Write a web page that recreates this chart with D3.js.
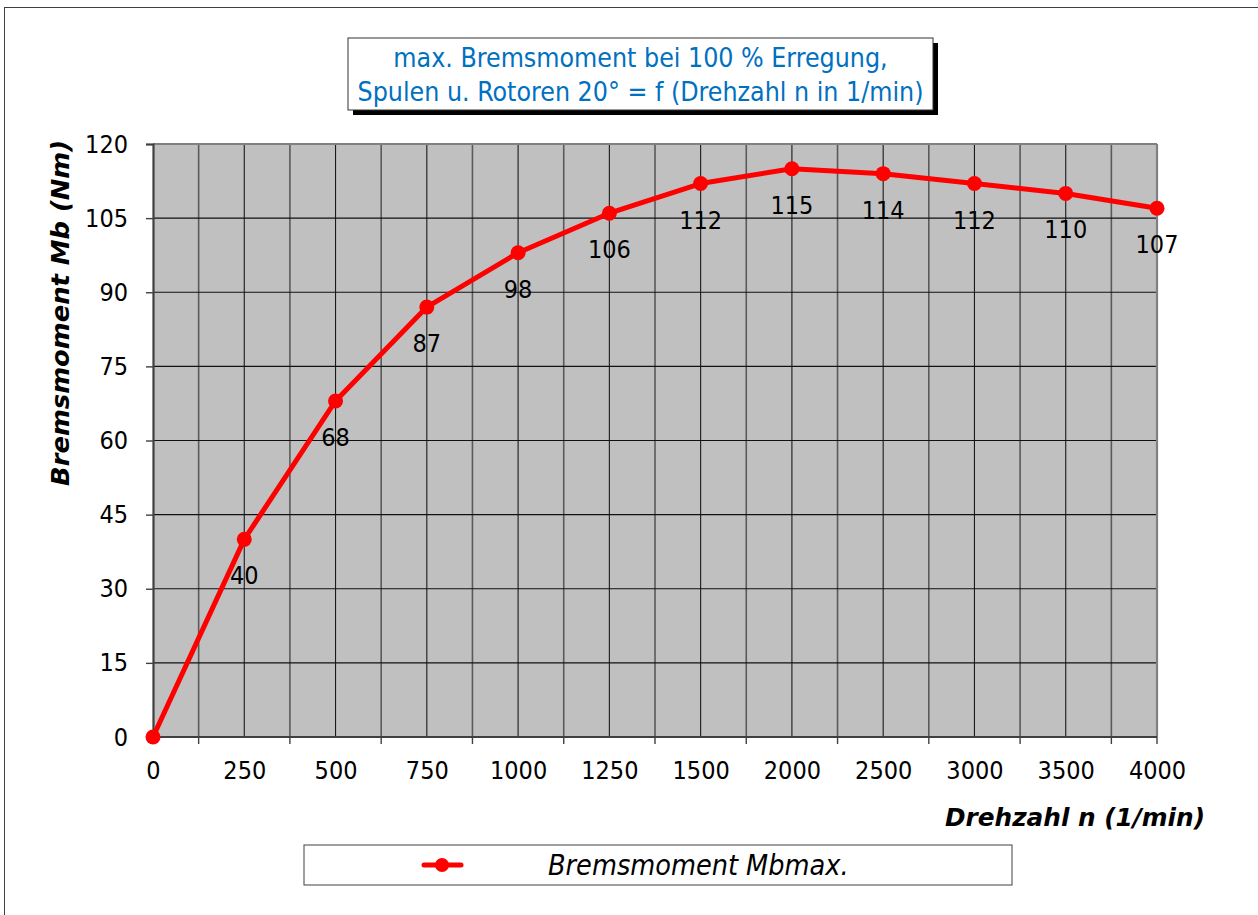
<!DOCTYPE html>
<html>
<head>
<meta charset="utf-8">
<script src="https://cdn.jsdelivr.net/npm/d3@7"></script>
<style>
  html, body { margin: 0; padding: 0; background: #fff; }
  svg text { font-family: "DejaVu Sans Condensed", "DejaVu Sans", sans-serif; font-stretch: condensed; }
</style>
</head>
<body>
<svg id="chart" width="1258" height="915"></svg>
<script>
// Drehzahl categories (1/min) and max. braking torque (Nm)
const categories = ["0", "250", "500", "750", "1000", "1250", "1500", "2000", "2500", "3000", "3500", "4000"];
const torque = [0, 40, 68, 87, 98, 106, 112, 115, 114, 112, 110, 107];
const yTicks = [0, 15, 30, 45, 60, 75, 90, 105, 120];
const titleLines = ["max. Bremsmoment bei 100 % Erregung,", "Spulen u. Rotoren 20° = f (Drehzahl n in 1/min)"];
const seriesName = "Bremsmoment Mbmax.";

const svg = d3.select("#chart");
const plot = { left: 153, right: 1157, top: 144, bottom: 737 };

// outer chart frame
svg.append("rect").attr("x", 4.5).attr("y", 7.5).attr("width", 1270).attr("height", 920)
  .attr("fill", "#fff").attr("stroke", "#404040").attr("stroke-width", 1);

const x = d3.scalePoint().domain(categories).range([plot.left, plot.right]);
const y = d3.scaleLinear().domain([0, 120]).range([plot.bottom, plot.top]);
const step = x.step();

// plot area
svg.append("rect").attr("x", plot.left).attr("y", plot.top)
  .attr("width", plot.right - plot.left).attr("height", plot.bottom - plot.top)
  .attr("fill", "#c0c0c0");

const grid = svg.append("g");
// vertical grid: on each category and halfway between
const vLines = [];
categories.forEach((c, i) => {
  if (i > 0) vLines.push({ pos: x(c), mid: false });
  if (i < categories.length - 1) vLines.push({ pos: x(c) + step / 2, mid: true });
});
grid.selectAll("line.v").data(vLines).join("line")
  .attr("x1", d => d.pos).attr("x2", d => d.pos)
  .attr("y1", plot.top).attr("y2", plot.bottom)
  .attr("stroke", d => d.mid ? "#5a5a5a" : "#1a1a1a")
  .attr("stroke-width", d => d.mid ? 1.6 : 1.1);
// horizontal grid
grid.selectAll("line.h").data(yTicks.slice(1, -1)).join("line")
  .attr("x1", plot.left).attr("x2", plot.right)
  .attr("y1", d => y(d)).attr("y2", d => y(d))
  .attr("stroke", "#111").attr("stroke-width", 1.1);

// plot frame
svg.append("line").attr("x1", plot.left).attr("x2", plot.right).attr("y1", plot.top).attr("y2", plot.top)
  .attr("stroke", "#808080").attr("stroke-width", 2.2);
svg.append("line").attr("x1", plot.right).attr("x2", plot.right).attr("y1", plot.top).attr("y2", plot.bottom)
  .attr("stroke", "#808080").attr("stroke-width", 2.2);

// y axis
const yAxis = d3.axisLeft(y).tickValues(yTicks).tickSize(7).tickPadding(18);
const gy = svg.append("g").attr("transform", `translate(${plot.left},0)`).call(yAxis);
gy.select(".domain").attr("stroke", "#404040").attr("stroke-width", 2.2);
gy.selectAll(".tick line").attr("stroke", "#404040").attr("stroke-width", 1.4);
gy.selectAll(".tick text").attr("font-size", 25).attr("fill", "#000")
  .attr("font-family", "'DejaVu Sans Condensed', 'DejaVu Sans', sans-serif");

// x axis: labels on categories, tick marks between categories
const xAxis = d3.axisBottom(x).tickSize(0).tickPadding(24);
const gx = svg.append("g").attr("transform", `translate(0,${plot.bottom})`).call(xAxis);
gx.select(".domain").remove();
gx.selectAll(".tick text").attr("font-size", 25).attr("fill", "#000")
  .attr("font-family", "'DejaVu Sans Condensed', 'DejaVu Sans', sans-serif");
svg.append("line").attr("x1", plot.left).attr("x2", plot.right)
  .attr("y1", plot.bottom).attr("y2", plot.bottom)
  .attr("stroke", "#404040").attr("stroke-width", 2.2);
const xTickPos = vLines.filter(d => d.mid).map(d => d.pos).concat([plot.right]);
svg.append("g").selectAll("line").data(xTickPos).join("line")
  .attr("x1", d => d).attr("x2", d => d)
  .attr("y1", plot.bottom).attr("y2", plot.bottom + 7)
  .attr("stroke", "#404040").attr("stroke-width", 1.4);

// series line and markers
const series = categories.map((c, i) => ({ c, v: torque[i] }));
svg.append("path").datum(series)
  .attr("d", d3.line().x(d => x(d.c)).y(d => y(d.v)))
  .attr("fill", "none").attr("stroke", "#ff0000").attr("stroke-width", 5)
  .attr("stroke-linejoin", "round");
svg.append("g").selectAll("circle").data(series).join("circle")
  .attr("cx", d => x(d.c)).attr("cy", d => y(d.v)).attr("r", 7.5)
  .attr("fill", "#ff0000");

// data labels
svg.append("g").selectAll("text").data(series.slice(1)).join("text")
  .attr("x", d => x(d.c)).attr("y", d => y(d.v) + 45)
  .attr("text-anchor", "middle").attr("font-size", 25).attr("fill", "#000")
  .text(d => d.v);

// axis titles
svg.append("text")
  .attr("transform", `translate(69,313) rotate(-90)`)
  .attr("text-anchor", "middle").attr("font-size", 24)
  .attr("font-weight", "bold").attr("font-style", "italic").attr("fill", "#000")
  .attr("textLength", 346).attr("lengthAdjust", "spacingAndGlyphs")
  .text("Bremsmoment Mb (Nm)");
svg.append("text").attr("x", 1205).attr("y", 826).attr("text-anchor", "end")
  .attr("font-size", 24).attr("font-weight", "bold").attr("font-style", "italic").attr("fill", "#000")
  .attr("textLength", 260).attr("lengthAdjust", "spacingAndGlyphs")
  .text("Drehzahl n (1/min)");

// chart title box with shadow
const tb = { x: 348, y: 38, w: 585, h: 72 };
svg.append("rect").attr("x", tb.x + 5).attr("y", tb.y + 5).attr("width", tb.w).attr("height", tb.h).attr("fill", "#000");
svg.append("rect").attr("x", tb.x).attr("y", tb.y).attr("width", tb.w).attr("height", tb.h)
  .attr("fill", "#fff").attr("stroke", "#333").attr("stroke-width", 1);
svg.append("g").selectAll("text").data(titleLines).join("text")
  .attr("x", tb.x + tb.w / 2).attr("y", (d, i) => 67 + i * 34)
  .attr("text-anchor", "middle").attr("font-size", 26.5).attr("fill", "#0070c0")
  .text(d => d);

// legend
const lg = { x: 304, y: 845, w: 708, h: 40 };
svg.append("rect").attr("x", lg.x).attr("y", lg.y).attr("width", lg.w).attr("height", lg.h)
  .attr("fill", "#fff").attr("stroke", "#404040").attr("stroke-width", 1);
svg.append("line").attr("x1", 424).attr("x2", 461).attr("y1", 865).attr("y2", 865)
  .attr("stroke", "#ff0000").attr("stroke-width", 5).attr("stroke-linecap", "round");
svg.append("circle").attr("cx", 442).attr("cy", 865).attr("r", 7).attr("fill", "#ff0000");
svg.append("text").attr("x", 548).attr("y", 875).attr("font-size", 28.5)
  .attr("font-style", "italic").attr("fill", "#000").text(seriesName);
</script>
</body>
</html>
